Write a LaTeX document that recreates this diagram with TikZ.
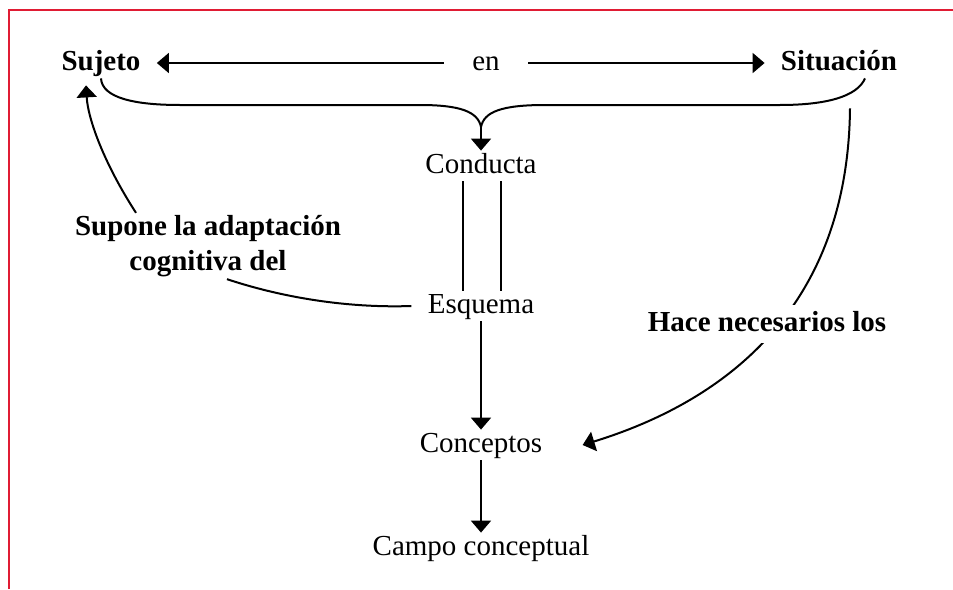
\documentclass[tikz,border=0pt]{standalone}
\usepackage{fontspec}
\setmainfont{Liberation Serif}
\usepackage{tikz}
\usetikzlibrary{arrows.meta, positioning, calc}
\definecolor{FrameRed}{RGB}{224,28,52}

\begin{document}
\begin{tikzpicture}[x=0.5pt,y=-0.5pt,
        txt/.style={font=\fontsize{14.5}{17.5}\selectfont,inner xsep=8pt,inner ysep=1pt,
                    text height=10pt,text depth=3pt},
        bl/.style={txt,font=\fontsize{14.5}{17.5}\selectfont\bfseries},
        multi/.style={font=\fontsize{14.5}{17.5}\selectfont\bfseries,align=center,inner sep=1pt},
        arr/.style={-{Triangle[length=6pt,width=10pt]},line width=1pt},
        ln/.style={line width=1pt},
        frame/.style={FrameRed,line width=0.6pt}
      ]
        \useasboundingbox (0,0) rectangle (953,589);
        \draw[frame] (9,589) -- (9,10) -- (953,10);
        \node[bl] (suj) at (101,63) {Sujeto};
        \node[txt,inner xsep=14pt] (en) at (486,63) {en};
        \node[bl] (sit) at (839,63) {Situación};
        \node[txt] (cond) at (481,166) {Conducta};
        \node[txt] (esq) at (481,306) {Esquema};
        \node[txt] (conc) at (481,445) {Conceptos};
        \node[txt] (campo) at (481,548) {Campo conceptual};
        \node[multi] (sup) at (208,246) {Supone la adaptación\\cognitiva del};
        \coordinate (cusp) at (481,127);
        \draw[arr] (en.west) -- (suj.east);
        \draw[arr] (en.east) -- (sit.west);
        % brace joining Sujeto and Situacion
        \draw[ln] (suj.south) .. controls (102,98) and (135,105) .. (180,105)
          -- (420,105) .. controls (461,105) and (478,112) .. (cusp);
        \draw[ln] ([xshift=13pt]sit.south) .. controls (857,97) and (825,105) .. (780,105)
          -- (545,105) .. controls (501,105) and (484,112) .. (cusp);
        \draw[arr] (cusp) -- (cond);
        \draw[ln] ([xshift=-9pt]cond.south) -- ([xshift=-9pt]esq.north);
        \draw[ln] ([xshift=10pt]cond.south) -- ([xshift=10pt]esq.north);
        \draw[arr] (esq) -- (conc);
        \draw[arr] (conc) -- (campo);
        \draw[ln] (esq.west) .. controls (355,308) and (290,300) .. ([xshift=9.5pt]sup.south);
        \draw[arr] ([xshift=-36pt]sup.north) .. controls (105,165) and (88,120)
          .. ([xshift=-7.5pt,yshift=-3.5pt]suj.south);
        \draw[arr] ([xshift=5.5pt,yshift=-15pt]sit.south) .. controls (848,300) and (735,398)
          .. ([xshift=12pt]conc.east)
          node[bl,fill=white,inner ysep=3pt,inner xsep=2pt] (hace) at (767,324) {Hace necesarios los};
      \end{tikzpicture}
\end{document}
